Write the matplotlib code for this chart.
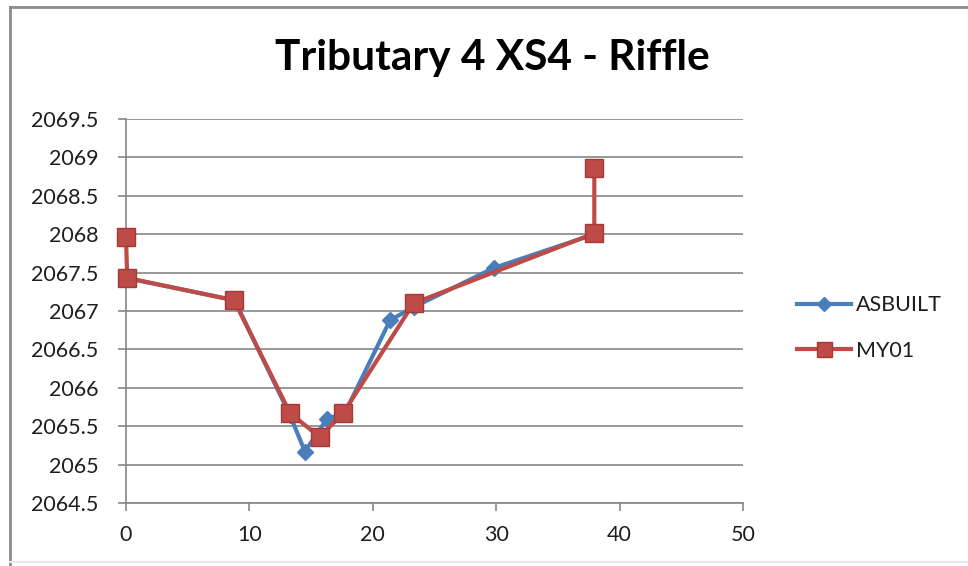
import matplotlib
matplotlib.use("Agg")
import matplotlib.pyplot as plt
from matplotlib.lines import Line2D

plt.rcParams['font.family'] = ['Lato', 'DejaVu Sans']

title = "Tributary 4 XS4 - Riffle"
series_names = ["ASBUILT", "MY01"]

asbuilt_x = [0.0, 8.8, 13.3, 14.5, 16.3, 17.7, 21.4, 23.3, 29.8, 37.95]
asbuilt_y = [2067.43, 2067.14, 2065.64, 2065.17, 2065.6, 2065.66, 2066.88, 2067.05, 2067.56, 2068.0]

my01_x = [0.0, 0.1, 8.75, 13.3, 15.7, 17.6, 23.3, 37.95, 37.95]
my01_y = [2067.96, 2067.43, 2067.14, 2065.67, 2065.36, 2065.67, 2067.1, 2068.01, 2068.86]

xticks = [0, 10, 20, 30, 40, 50]
yticks = [2064.5, 2065, 2065.5, 2066, 2066.5, 2067, 2067.5, 2068, 2068.5, 2069, 2069.5]
ytick_labels = ["2064.5", "2065", "2065.5", "2066", "2066.5", "2067", "2067.5", "2068", "2068.5", "2069", "2069.5"]

blue = "#4A7EBB"
red = "#BE4B48"
grid_c = "#868686"

W, H = 968, 566
fig = plt.figure(figsize=(W / 100, H / 100), dpi=100)
ax = fig.add_axes([126 / W, 1 - 503 / H, (743 - 126) / W, (503 - 119) / H])

ax.plot(asbuilt_x, asbuilt_y, color=blue, lw=3, marker="D", ms=8.5,
        mfc=blue, mec=blue, label=series_names[0], zorder=3, clip_on=False)
ax.plot(my01_x, my01_y, color=red, lw=3, marker="s", ms=13.5,
        mfc=red, mec="#A33A37", mew=1, label=series_names[1], zorder=4, clip_on=False)

ax.set_xlim(0, 50)
ax.set_ylim(2064.5, 2069.5)
ax.set_xticks(xticks)
ax.set_xticklabels([str(t) for t in xticks])
ax.set_yticks(yticks)
ax.set_yticklabels(ytick_labels)

ax.yaxis.grid(True, color=grid_c, lw=1.2)
ax.set_axisbelow(True)
for s in ["top", "right"]:
    ax.spines[s].set_visible(False)
for s in ["left", "bottom"]:
    ax.spines[s].set_color(grid_c)
    ax.spines[s].set_linewidth(1.2)
ax.tick_params(axis="both", colors=grid_c, length=6, width=1.2, labelsize=15.5,
               labelcolor="#1E1E1E")
ax.tick_params(axis="y", pad=14)
ax.tick_params(axis="x", pad=10)

fig.suptitle(title, x=492 / W, y=1 - 58 / H, va="center", ha="center",
             fontsize=30.5, fontweight="bold", color="#000000")

leg = ax.legend(loc="center left", bbox_to_anchor=(778 / W, 1 - 328 / H),
                bbox_transform=fig.transFigure, frameon=False, fontsize=15.5,
                handlelength=2.5, labelspacing=1.2, handletextpad=0.2,
                markerscale=0.8)
for t in leg.get_texts():
    t.set_color("#1E1E1E")

# chart area border
fig.add_artist(Line2D([10 / W, 10 / W], [0, 1 - 7 / H], transform=fig.transFigure,
                      color="#8C8C8C", lw=2))
fig.add_artist(Line2D([10 / W, 1], [1 - 7 / H, 1 - 7 / H], transform=fig.transFigure,
                      color="#8C8C8C", lw=2))
fig.add_artist(Line2D([10 / W, 1], [1 - 562 / H, 1 - 562 / H], transform=fig.transFigure,
                      color="#E8E8E8", lw=1.5))

fig.savefig("out.png", dpi=100)
